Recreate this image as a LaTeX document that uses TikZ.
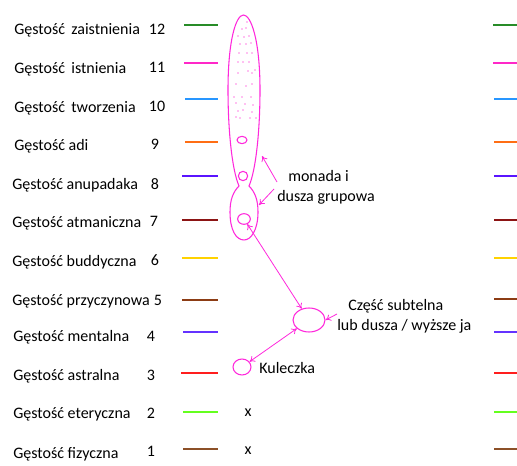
\documentclass[tikz,border=0pt]{standalone}
\usepackage{fontspec}
\setmainfont{Carlito}
\usetikzlibrary{shapes,arrows.meta,positioning}
\definecolor{cZai}{RGB}{40,140,40}
\definecolor{cIst}{RGB}{255,40,200}
\definecolor{cTwo}{RGB}{40,150,255}
\definecolor{cAdi}{RGB}{255,110,20}
\definecolor{cAnu}{RGB}{90,20,255}
\definecolor{cAtm}{RGB}{140,20,20}
\definecolor{cBud}{RGB}{255,210,0}
\definecolor{cPrz}{RGB}{140,60,20}
\definecolor{cMen}{RGB}{100,50,255}
\definecolor{cAst}{RGB}{255,30,30}
\definecolor{cEte}{RGB}{100,255,30}
\definecolor{cFiz}{RGB}{140,80,40}
\definecolor{soulpink}{RGB}{255,40,220}
\definecolor{dotpink}{RGB}{255,130,230}
\tikzset{dens/.style={anchor=west, inner sep=0pt, text height=1.5ex, text depth=.25ex, yshift=-1pt}}
\tikzset{num/.style={inner sep=0pt, text height=1.5ex, text depth=.25ex, yshift=-1pt}}
\tikzset{lvl/.style={line width=1.4pt}}
\tikzset{blob/.style={ellipse, draw=soulpink, line width=0.8pt, inner sep=0pt}}
\tikzset{pline/.style={draw=soulpink, line width=0.6pt, -{To[length=4pt,width=5pt]}}}
\tikzset{pboth/.style={draw=soulpink, line width=0.6pt, {To[length=4pt,width=5pt]}-{To[length=4pt,width=5pt]}}}

\begin{document}
\begin{tikzpicture}[x=0.75pt,y=-0.75pt, font=\fontsize{12}{15}\selectfont]
        \useasboundingbox[fill=white] (0,0) rectangle (517,466);

        % names of the densities
        \node[dens] (d12) at (14,29) {Gęstość\, zaistnienia};
        \node[dens] (d11) at (14,68) {Gęstość\, istnienia};
        \node[dens] (d10) at (14,107) {Gęstość\, tworzenia};
        \node[dens] (d9) at (14,145) {Gęstość adi};
        \node[dens] (d8) at (12,184) {Gęstość anupadaka};
        \node[dens] (d7) at (12,222) {Gęstość atmaniczna};
        \node[dens] (d6) at (12,261) {Gęstość buddyczna};
        \node[dens] (d5) at (12,300) {Gęstość przyczynowa};
        \node[dens] (d4) at (13,336) {Gęstość mentalna};
        \node[dens] (d3) at (13,375) {Gęstość astralna};
        \node[dens] (d2) at (13,413) {Gęstość eteryczna};
        \node[dens] (d1) at (13,453) {Gęstość fizyczna};

        \node[num] (n12) at (157,29) {12};
        \node[num] (n11) at (157,67) {11};
        \node[num] (n10) at (157,106) {10};
        \node[num] (n9) at (155,144) {9};
        \node[num] (n8) at (155,184) {8};
        \node[num] (n7) at (154,221) {7};
        \node[num] (n6) at (155,260) {6};
        \node[num] (n5) at (158,300) {5};
        \node[num] (n4) at (151,336) {4};
        \node[num] (n3) at (151,375) {3};
        \node[num] (n2) at (151,413) {2};
        \node[num] (n1) at (151,451) {1};

        % coloured level lines, left and right
        \draw[lvl, cZai] (184,25) -- (218,25)  (493,25) -- (517,25);
        \draw[lvl, cIst] (184,63) -- (218,63)  (493,63) -- (517,63);
        \draw[lvl, cTwo] (185,99) -- (218,99)  (494,99) -- (517,99);
        \draw[lvl, cAdi] (185,142) -- (218,142)  (494,142) -- (517,142);
        \draw[lvl, cAnu] (182,176) -- (218,176)  (494,176) -- (517,176);
        \draw[lvl, cAtm] (182,220) -- (218,220)  (494,220) -- (517,220);
        \draw[lvl, cBud] (182,258) -- (218,258)  (494,258) -- (517,258);
        \draw[lvl, cPrz] (182,300) -- (218,300)  (494,299) -- (517,299);
        \draw[lvl, cMen] (183,332) -- (218,332)  (494,332) -- (517,332);
        \draw[lvl, cAst] (181,373) -- (218,373)  (494,373) -- (517,373);
        \draw[lvl, cEte] (183,412) -- (218,412)  (494,412) -- (517,412);
        \draw[lvl, cFiz] (183,449) -- (218,449)  (494,449) -- (517,449);

        % monada with the group soul below it
        \draw[soulpink, line width=0.8pt] (239,186) .. controls (232,170) and (228,130) .. (228,90)
            .. controls (228,40) and (236,15) .. (243.5,15) .. controls (251,15) and (260,40) .. (260,90)
            .. controls (260,130) and (256,170) .. (249,186)
            .. controls (255,192) and (258,200) .. (258,212) .. controls (258,230) and (251,240) .. (244,240)
            .. controls (236,240) and (230,230) .. (230,212) .. controls (230,200) and (233,192) .. (239,186);
        \foreach \px/\py in {247/22,242/29,246/28,238/36,244/37,249/36,240/44,246/44,251/43,239/53,247/53,
            252/53,238/62,243/62,249/62,248/71,252/73,255/70,238/73,236/84,246/86,252/84,234/97,242/97,
            251/97,236/103,245/104,253/105,238/111,243/110,252/112,236/117,240/118,250/118,256/118}
            \fill[dotpink] (\px,\py) circle (0.9);

        \node[blob, minimum width=7.5pt, minimum height=5.5pt] (adi) at (242,140) {};
        \node[blob, minimum width=7pt, minimum height=7pt] (anu) at (243,176) {};
        \node[blob, minimum width=9.5pt, minimum height=8pt] (atma) at (244,219) {};
        \node[blob, minimum width=24pt, minimum height=18pt] (soul) at (309,320) {};
        \node[blob, minimum width=13.5pt, minimum height=12pt] (kul) at (242,367) {};

        \node[anchor=west, inner sep=0pt] (tkul) at (259,368) {Kuleczka};
        \node[anchor=west, align=left, inner sep=0pt] (tmon) at (277,187) {\hspace*{8.25pt}monada i\\dusza grupowa};
        \node[anchor=west, align=left, inner sep=0pt] (tsoul) at (337,316) {\hspace*{8.25pt}Część subtelna\\lub dusza / wyższe ja};
        \node[inner sep=0pt] (x2) at (248,413) {x};
        \node[inner sep=0pt] (x1) at (248,451) {x};

        \coordinate (m1) at (277,182);
        \coordinate (m2) at (274,189);
        \coordinate (s1) at (337,314);
        \coordinate (monup) at (262,156);
        \coordinate (mondown) at (259,205);
        \path[pline] (m1) -- (monup);
        \path[pline] (m2) -- (mondown);
        \path[pline] (s1) -- (soul.east);
        \path[pboth] (atma) -- (soul);
        \path[pboth] (soul) -- (kul);
      \end{tikzpicture}
\end{document}
